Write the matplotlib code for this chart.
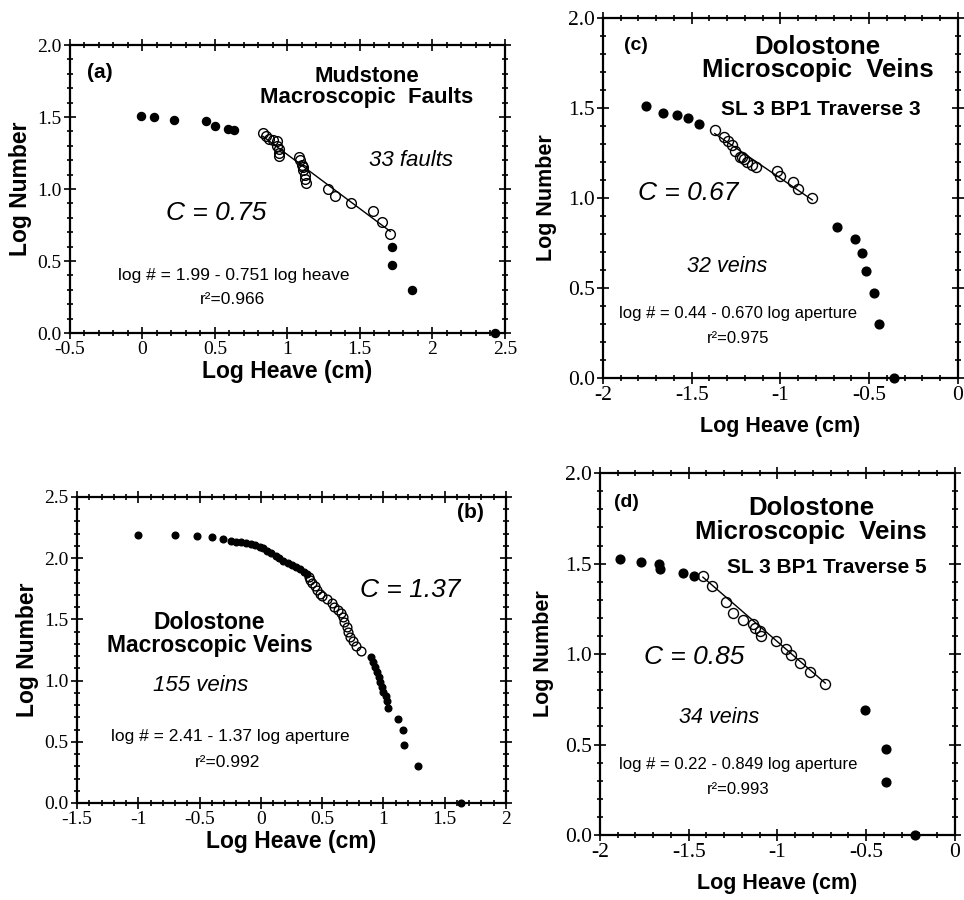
import matplotlib
matplotlib.use("Agg")
from matplotlib import pyplot as plt
from matplotlib.ticker import MultipleLocator

SANS = "Liberation Sans"
SERIF = "Liberation Serif"

# (a) Mudstone macroscopic faults
a_solid_x = [-0.01, 0.08, 0.22, 0.44, 0.50, 0.59, 0.63, 1.72, 1.72, 1.86, 2.43]
a_solid_y = [1.51, 1.50, 1.48, 1.47, 1.44, 1.42, 1.41, 0.60, 0.47, 0.30, 0.00]
a_open_x = [0.83, 0.85, 0.87, 0.90, 0.93, 0.93, 0.94, 0.94, 0.94, 1.08, 1.09, 1.10,
            1.11, 1.11, 1.12, 1.12, 1.13, 1.28, 1.33, 1.44, 1.59, 1.65, 1.71]
a_open_y = [1.39, 1.37, 1.35, 1.34, 1.33, 1.30, 1.28, 1.25, 1.23, 1.22, 1.20, 1.17,
            1.15, 1.13, 1.10, 1.07, 1.04, 1.00, 0.95, 0.90, 0.85, 0.77, 0.69]
a_fit = (1.99, -0.751)

# (b) Dolostone macroscopic veins
b_solid_x = [-1.00, -0.70, -0.52, -0.40, -0.31, -0.24, -0.20, -0.16, -0.12, -0.08,
             -0.05, -0.01, 0.02, 0.05, 0.08, 0.12, 0.15, 0.18, 0.22, 0.25, 0.29,
             0.32, 0.35, 0.38,
             0.895, 0.915, 0.93, 0.945, 0.96, 0.97, 0.985, 1.00, 1.02, 1.03, 1.04,
             1.12, 1.16, 1.17, 1.28, 1.63]
b_solid_y = [2.19, 2.19, 2.18, 2.17, 2.155, 2.14, 2.135, 2.13, 2.12, 2.115,
             2.11, 2.095, 2.08, 2.06, 2.04, 2.02, 2.00, 1.98, 1.96, 1.945, 1.925,
             1.91, 1.89, 1.87,
             1.195, 1.155, 1.115, 1.07, 1.03, 0.99, 0.95, 0.91, 0.87, 0.83, 0.775,
             0.685, 0.595, 0.475, 0.30, 0.00]
b_open_x = [0.39, 0.40, 0.42, 0.44, 0.46, 0.48, 0.50, 0.54, 0.58, 0.60, 0.63, 0.65,
            0.67, 0.68, 0.70, 0.71, 0.73, 0.75, 0.78, 0.82]
b_open_y = [1.85, 1.82, 1.795, 1.77, 1.74, 1.71, 1.69, 1.665, 1.63, 1.60, 1.58, 1.55,
            1.52, 1.48, 1.44, 1.40, 1.36, 1.32, 1.28, 1.24]

# (c) Dolostone microscopic veins, SL 3 BP1 traverse 3
c_solid_x = [-1.76, -1.66, -1.585, -1.52, -1.46, -0.68, -0.58, -0.54, -0.515, -0.47, -0.445, -0.36]
c_solid_y = [1.51, 1.475, 1.46, 1.445, 1.41, 0.84, 0.775, 0.695, 0.595, 0.47, 0.30, 0.00]
c_open_x = [-1.37, -1.32, -1.295, -1.275, -1.255, -1.23, -1.215, -1.205, -1.19, -1.16,
            -1.135, -1.02, -1.00, -0.93, -0.90, -0.82]
c_open_y = [1.38, 1.34, 1.315, 1.295, 1.26, 1.23, 1.225, 1.215, 1.20, 1.185,
            1.175, 1.15, 1.12, 1.09, 1.05, 1.00]
c_fit = (0.44, -0.670)

# (d) Dolostone microscopic veins, SL 3 BP1 traverse 5
d_solid_x = [-1.89, -1.77, -1.665, -1.66, -1.53, -1.47, -0.505, -0.385, -0.385, -0.225]
d_solid_y = [1.525, 1.51, 1.497, 1.47, 1.45, 1.43, 0.69, 0.475, 0.295, 0.00]
d_open_x = [-1.42, -1.37, -1.29, -1.25, -1.195, -1.14, -1.125, -1.10, -1.09, -1.01,
            -0.95, -0.925, -0.875, -0.815, -0.73]
d_open_y = [1.43, 1.375, 1.29, 1.225, 1.19, 1.165, 1.145, 1.13, 1.10, 1.07,
            1.03, 0.995, 0.95, 0.90, 0.835]
d_fit = (0.22, -0.849)


def setup_axes(ax, xlim, ylim, xstep, tick_size, label_size, xpad, ypad):
    ax.set_xlim(*xlim)
    ax.set_ylim(*ylim)
    xt = [xlim[0] + i * xstep for i in range(int(round((xlim[1] - xlim[0]) / xstep)) + 1)]
    yt = [ylim[0] + i * 0.5 for i in range(int(round((ylim[1] - ylim[0]) / 0.5)) + 1)]
    ax.set_xticks(xt)
    ax.set_xticklabels([f"{v:g}" for v in xt], fontfamily=SERIF, fontsize=tick_size)
    ax.set_yticks(yt)
    ax.set_yticklabels([f"{v:.1f}" for v in yt], fontfamily=SERIF, fontsize=tick_size)
    ax.xaxis.set_minor_locator(MultipleLocator(0.1))
    ax.yaxis.set_minor_locator(MultipleLocator(0.1))
    ax.tick_params(which="both", direction="inout", top=True, right=True, width=1.2, pad=2)
    ax.tick_params(which="major", length=8)
    ax.tick_params(which="minor", length=4)
    for s in ax.spines.values():
        s.set_linewidth(1.6)
    ax.set_xlabel("Log Heave (cm)", fontfamily=SANS, fontweight="bold", fontsize=label_size, labelpad=xpad)
    ax.set_ylabel("Log Number", fontfamily=SANS, fontweight="bold", fontsize=label_size, labelpad=ypad)


def draw_points(ax, sx, sy, ox, oy, fs, fo, fit=None):
    if fit is not None:
        fx = [min(ox), max(ox)]
        ax.plot(fx, [fit[0] + fit[1] * v for v in fx], color="black", lw=1.0, zorder=2)
    ax.plot(ox, oy, "o", ms=fo, mfc="none", mec="black", mew=1.0, zorder=3, clip_on=False)
    ax.plot(sx, sy, "o", ms=fs, color="black", zorder=4, clip_on=False)


def note(ax, x, y, s, size, weight="normal", style="normal", ha="center"):
    ax.text(x, y, s, fontfamily=SANS, fontsize=size, fontweight=weight, fontstyle=style,
            ha=ha, va="center", linespacing=1.0)


fig = plt.figure(figsize=(9.64, 9.0), dpi=100)

# (a)
ax = fig.add_axes([0.0726, 0.63, 0.451, 0.32])
setup_axes(ax, (-0.5, 2.5), (0.0, 2.0), 0.5, 14, 16.5, 1, 4)
draw_points(ax, a_solid_x, a_solid_y, a_open_x, a_open_y, 5.8, 7.0, a_fit)
note(ax, -0.38, 1.81, "(a)", 15, weight="bold", ha="left")
note(ax, 1.55, 1.71, "Mudstone\nMacroscopic  Faults", 16, weight="bold")
note(ax, 1.85, 1.20, "33 faults", 16, style="italic")
note(ax, 0.51, 0.83, "C = 0.75", 19, style="italic")
note(ax, 0.63, 0.40, "log # = 1.99 - 0.751 log heave", 12.5)
note(ax, 0.62, 0.23, "r\u00b2=0.966", 12.5)

# (b)
ax = fig.add_axes([0.0799, 0.1078, 0.445, 0.34])
setup_axes(ax, (-1.5, 2.0), (0.0, 2.5), 0.5, 14, 16.5, 1, 4)
draw_points(ax, b_solid_x, b_solid_y, b_open_x, b_open_y, 4.8, 6.3)
note(ax, 1.60, 2.37, "(b)", 15, weight="bold", ha="left")
note(ax, 1.22, 1.74, "C = 1.37", 19, style="italic")
note(ax, -0.42, 1.38, "Dolostone\nMacroscopic Veins", 16.5, weight="bold")
note(ax, -0.49, 0.96, "155 veins", 16, style="italic")
note(ax, -0.25, 0.54, "log # = 2.41 - 1.37 log aperture", 12.5)
note(ax, -0.27, 0.33, "r\u00b2=0.992", 12.5)

# (c)
ax = fig.add_axes([0.6255, 0.58, 0.368, 0.40])
setup_axes(ax, (-2.0, 0.0), (0.0, 2.0), 0.5, 15.5, 15.5, 8, 8)
draw_points(ax, c_solid_x, c_solid_y, c_open_x, c_open_y, 6.3, 7.2, c_fit)
note(ax, -1.88, 1.85, "(c)", 14, weight="bold", ha="left")
note(ax, -0.79, 1.775, "Dolostone\nMicroscopic  Veins", 18.5, weight="bold")
note(ax, -0.77, 1.49, "SL 3 BP1 Traverse 3", 15, weight="bold")
note(ax, -1.52, 1.03, "C = 0.67", 19, style="italic")
note(ax, -1.30, 0.62, "32 veins", 15.5, style="italic")
note(ax, -1.24, 0.36, "log # = 0.44 - 0.670 log aperture", 12)
note(ax, -1.24, 0.22, "r\u00b2=0.975", 12)

# (d)
ax = fig.add_axes([0.6224, 0.0722, 0.368, 0.402])
setup_axes(ax, (-2.0, 0.0), (0.0, 2.0), 0.5, 15.5, 15.5, 8, 8)
draw_points(ax, d_solid_x, d_solid_y, d_open_x, d_open_y, 6.3, 7.2, d_fit)
note(ax, -1.92, 1.84, "(d)", 14, weight="bold", ha="left")
note(ax, -0.81, 1.74, "Dolostone\nMicroscopic  Veins", 18.5, weight="bold")
note(ax, -0.72, 1.48, "SL 3 BP1 Traverse 5", 15, weight="bold")
note(ax, -1.47, 0.985, "C = 0.85", 19, style="italic")
note(ax, -1.33, 0.65, "34 veins", 15.5, style="italic")
note(ax, -1.22, 0.39, "log # = 0.22 - 0.849 log aperture", 12)
note(ax, -1.22, 0.25, "r\u00b2=0.993", 12)

fig.savefig("out.png", dpi=100)
